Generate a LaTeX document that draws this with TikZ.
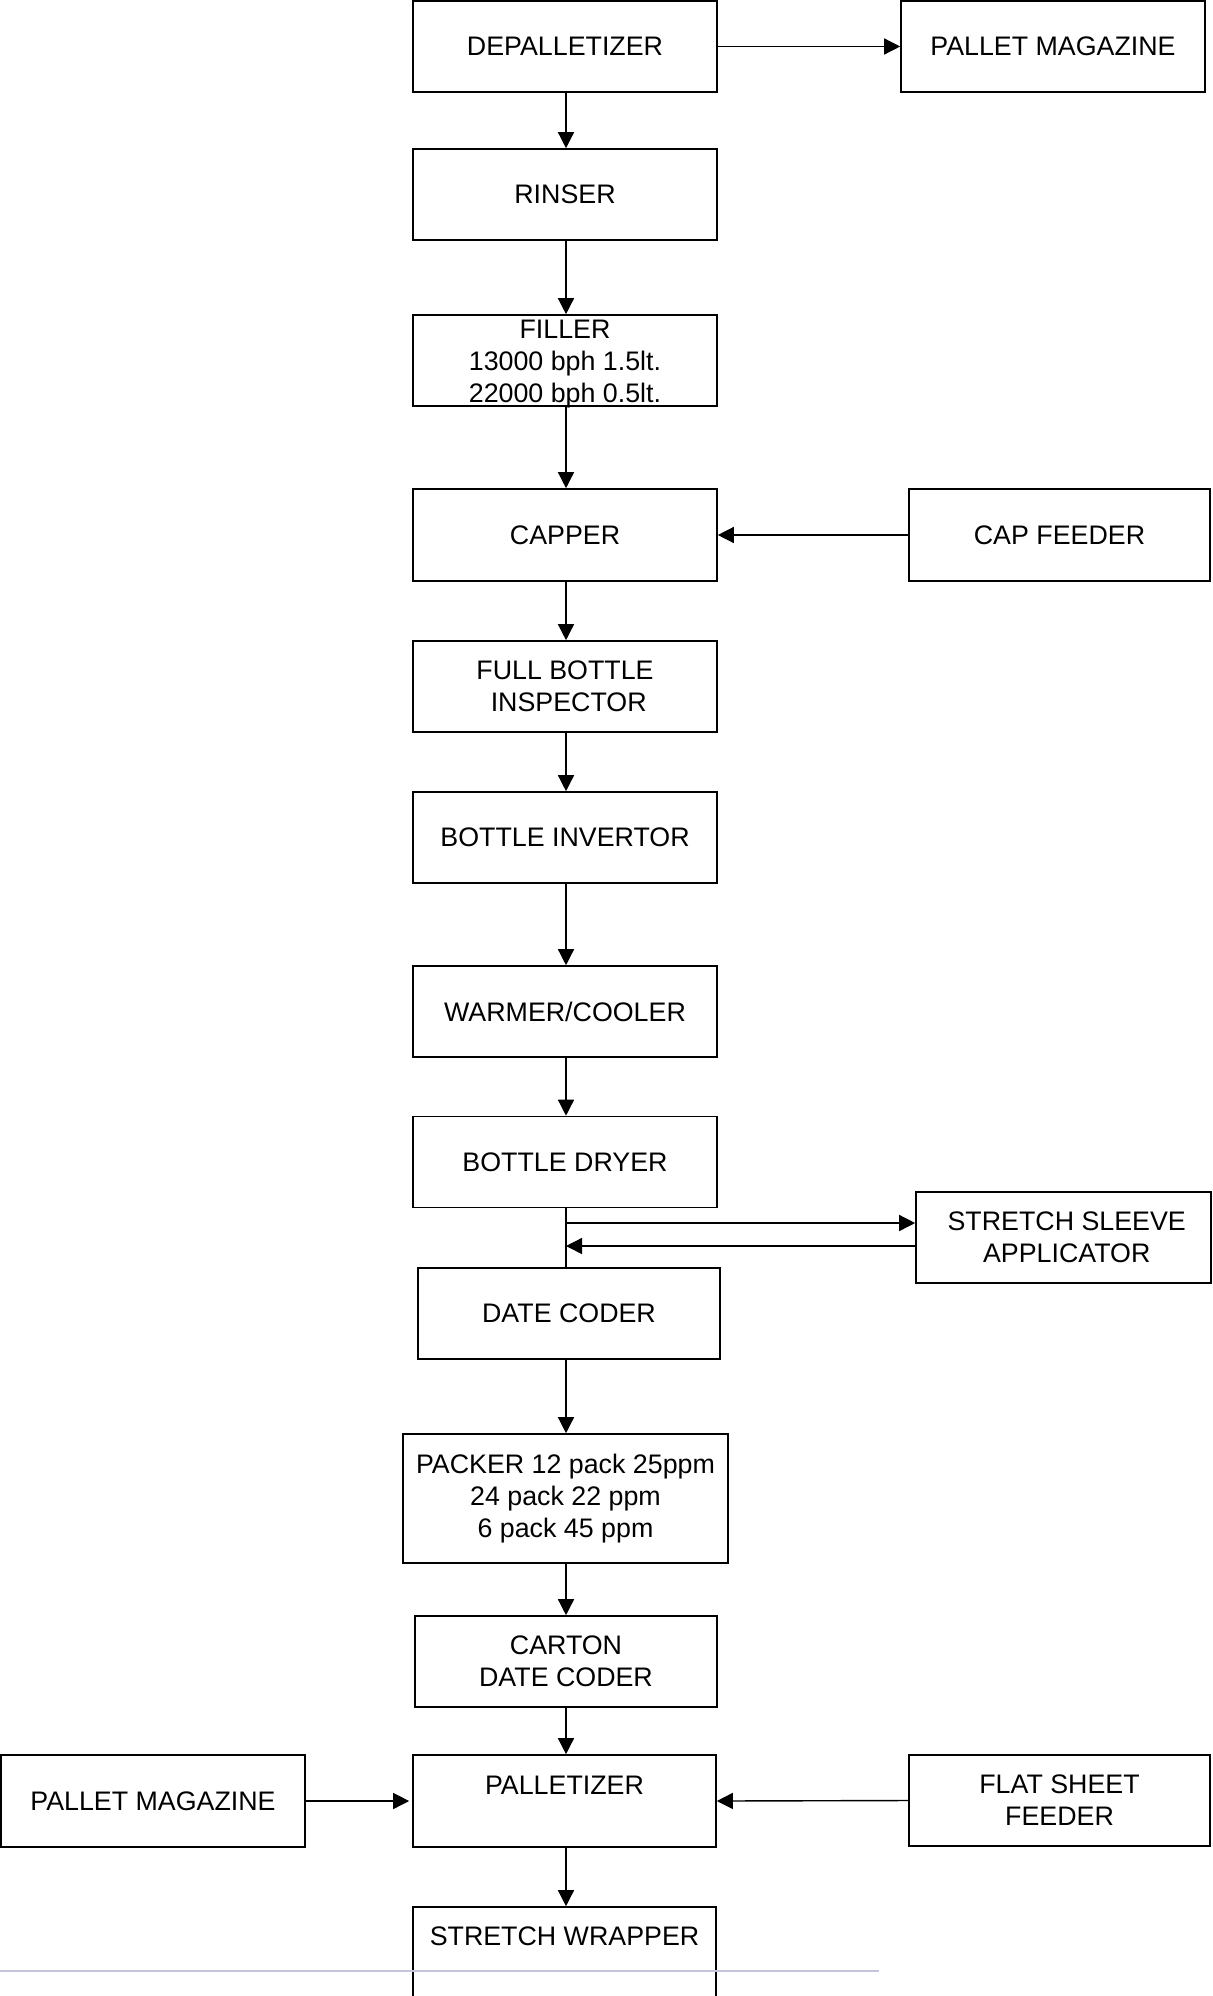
\documentclass[tikz,border=0pt]{standalone}
\usepackage{fontspec}
\setmainfont{Liberation Sans}
\usetikzlibrary{arrows.meta}
\definecolor{rulegray}{RGB}{196,198,222}
\begin{document}
\begin{tikzpicture}[x=0.5pt,y=-0.5pt,
  box/.style={draw, line width=0.8pt, inner sep=0pt, align=center,
    font=\fontsize{13.4}{16}\selectfont, minimum width=152pt, minimum height=45.5pt},
  txt/.style={inner sep=0pt, align=center, font=\fontsize{13.4}{16}\selectfont},
  arr/.style={line width=0.7pt, -{Triangle[length=8pt,width=8pt]}},
  conn/.style={line width=0.7pt},
  rule/.style={line width=0.6pt, draw=rulegray}]
\useasboundingbox (0,0) rectangle (1212,1996);

\node[box] (dep) at (565,46.5) {DEPALLETIZER};
\node[box] (pm1) at (1053,46.5) {PALLET MAGAZINE};
\node[box] (rin) at (565,194.5) {RINSER};
\node[box] (fil) at (565,360.5) {};
\node[txt] (filt) at ([yshift=-2pt]fil.center) {FILLER\\13000 bph 1.5lt.\\22000 bph 0.5lt.};
\node[box, minimum height=46pt] (cap) at (565,535) {CAPPER};
\node[box, minimum width=150.5pt, minimum height=46pt] (capf) at (1059.5,535) {CAP FEEDER};
\node[box] (fbi) at (565,686.5) {FULL BOTTLE\\\hspace*{3.7pt}INSPECTOR};
\node[box] (binv) at (565,837.5) {BOTTLE INVERTOR};
\node[box] (wc) at (565,1011.5) {WARMER/COOLER};
\node[box] (dry) at (565,1162) {BOTTLE DRYER};
\node[box, minimum width=151pt] (dc) at (569,1313.5) {DATE CODER};
\node[box, minimum width=147.5pt] (ssa) at (1063.5,1237.5) {};
\node[txt] (ssat) at ([xshift=1.6pt]ssa.center) {STRETCH SLEEVE\\APPLICATOR};
\node[box, minimum width=162.5pt, minimum height=64.5pt] (pack) at (565.5,1498.5) {PACKER 12 pack 25ppm\\24 pack 22 ppm\\6 pack 45 ppm};
\node[box, minimum width=151pt] (cdc) at (566,1661.5) {CARTON\\DATE CODER};
\node[box, minimum width=151.5pt, minimum height=46pt] (pal) at (564.5,1801) {PALLETIZER\\~};
\node[box, minimum height=46pt] (pm2) at (153,1801) {PALLET MAGAZINE};
\node[box, minimum width=150.5pt] (fsf) at (1059.5,1800.5) {FLAT SHEET\\FEEDER};
\node[box, minimum width=151.5pt] (sw) at (564.5,1952.5) {STRETCH WRAPPER\\~};

\coordinate (spine) at (566,0);
\coordinate (out) at (566,1223);
\coordinate (back) at (566,1246);

\draw[arr] (dep.east) -- (pm1.west);
\draw[arr] (dep.south -| spine) -- (rin.north -| spine);
\draw[arr] (rin.south -| spine) -- (fil.north -| spine);
\draw[arr] (fil.south -| spine) -- (cap.north -| spine);
\draw[arr] (capf.west) -- (cap.east);
\draw[arr] (cap.south -| spine) -- (fbi.north -| spine);
\draw[arr] (fbi.south -| spine) -- (binv.north -| spine);
\draw[arr] (binv.south -| spine) -- (wc.north -| spine);
\draw[arr] (wc.south -| spine) -- (dry.north -| spine);
\draw[conn] (dry.south -| spine) -- (dc.north -| spine);
\draw[arr] (out) -- (out -| ssa.west);
\draw[arr] (back -| ssa.west) -- (back);
\draw[arr] (dc.south -| spine) -- (pack.north -| spine);
\draw[arr] (pack.south -| spine) -- (cdc.north -| spine);
\draw[arr] (cdc.south -| spine) -- (pal.north -| spine);
\draw[arr] (pm2.east) -- ([xshift=-1.5pt]pal.west);
\draw[arr] (fsf.west) -- (pal.east);
\draw[arr] (pal.south -| spine) -- (sw.north -| spine);

\draw[rule] (0,1971) -- (879,1971);
\end{tikzpicture}
\end{document}
